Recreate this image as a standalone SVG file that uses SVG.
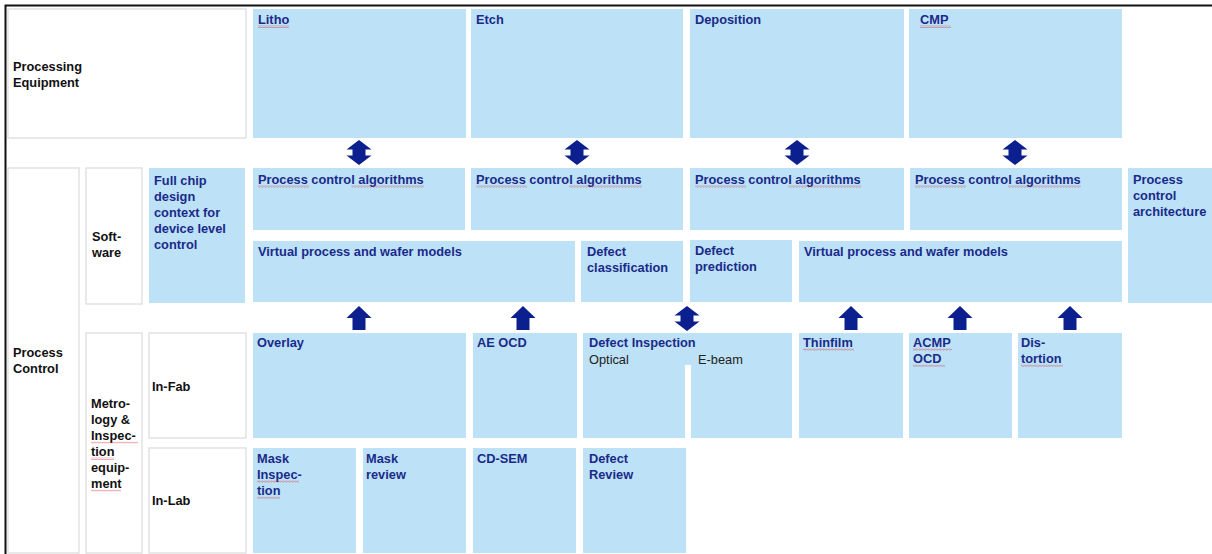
<svg xmlns="http://www.w3.org/2000/svg" width="1212" height="554" viewBox="0 0 1212 554">
  <style>
    .cell { fill: #bde1f6; }
    .hdr { fill: #ffffff; stroke: #dadada; stroke-width: 1.2; }
    .t { font-family: "Liberation Sans", Arial, sans-serif; font-size: 12.8px; font-weight: bold; fill: #1a2a8a; }
    .h { font-family: "Liberation Sans", Arial, sans-serif; font-size: 12.8px; font-weight: bold; fill: #111111; }
    .r { font-family: "Liberation Sans", Arial, sans-serif; font-size: 12.8px; fill: #222222; }
    .arr { fill: #0c1f8e; }
    .sq { fill: url(#squiggle); }
  </style>
  <defs>
    <pattern id="squiggle" width="3" height="2.4" patternUnits="userSpaceOnUse">
      <path d="M0,1.9 L1.5,0.5 L3,1.9" fill="none" stroke="#d2262a" stroke-width="0.6"/>
    </pattern>
    <!-- double-headed vertical arrow, tip at (0,0), 25 tall -->
    <path id="dbl" d="M0,0 L12.5,9.5 L6.5,9.5 L6.5,15.5 L12.5,15.5 L0,25 L-12.5,15.5 L-6.5,15.5 L-6.5,9.5 L-12.5,9.5 Z"/>
    <!-- upward arrow, tip at (0,0), 24 tall -->
    <path id="up" d="M0,0 L12.5,12 L6.5,12 L6.5,24 L-6.5,24 L-6.5,12 L-12.5,12 Z"/>
  </defs>

  <rect x="0" y="0" width="1212" height="554" fill="#ffffff"/>
  <!-- frame -->
  <path d="M5.5,554 L5.5,5.5 L1212,5.5" fill="none" stroke="#111111" stroke-width="2"/>

  <!-- row headers -->
  <g id="processing-equipment">
    <rect class="hdr" x="8" y="9" width="238" height="129"/>
    <text class="h" x="13" y="71">Processing</text>
    <text class="h" x="13" y="87">Equipment</text>
  </g>
  <g id="process-control">
    <rect class="hdr" x="8" y="168" width="71" height="385"/>
    <text class="h" x="13" y="357">Process</text>
    <text class="h" x="13" y="373">Control</text>
  </g>
  <g id="software">
    <rect class="hdr" x="86" y="168" width="56" height="136"/>
    <text class="h" x="92" y="241">Soft-</text>
    <text class="h" x="92" y="257">ware</text>
  </g>
  <g id="metrology">
    <rect class="hdr" x="86" y="333" width="56" height="220"/>
    <text class="h" x="91" y="408">Metro-</text>
    <text class="h" x="91" y="424">logy &amp;</text>
    <text class="h" x="91" y="440">Inspec-</text>
    <text class="h" x="91" y="456">tion</text>
    <text class="h" x="91" y="472">equip-</text>
    <text class="h" x="91" y="488">ment</text>
    <rect class="sq" x="91" y="441.5" width="47" height="2.4"/>
    <rect class="sq" x="91" y="457.5" width="23" height="2.4"/>
    <rect class="sq" x="91" y="489.5" width="30" height="2.4"/>
  </g>
  <g id="in-fab">
    <rect class="hdr" x="149" y="333" width="97" height="105"/>
    <text class="h" x="152" y="391">In-Fab</text>
  </g>
  <g id="in-lab">
    <rect class="hdr" x="149" y="448" width="97" height="105"/>
    <text class="h" x="152" y="505">In-Lab</text>
  </g>

  <!-- processing equipment -->
  <g id="litho">
    <rect class="cell" x="253" y="9" width="213" height="129"/>
    <text class="t" x="258" y="24">Litho</text>
    <rect class="sq" x="258" y="25.5" width="31" height="2.4"/>
  </g>
  <g id="etch">
    <rect class="cell" x="471" y="9" width="212" height="129"/>
    <text class="t" x="476" y="24">Etch</text>
  </g>
  <g id="deposition">
    <rect class="cell" x="690" y="9" width="214" height="129"/>
    <text class="t" x="695" y="24">Deposition</text>
  </g>
  <g id="cmp">
    <rect class="cell" x="909" y="9" width="213" height="129"/>
    <text class="t" x="920" y="24">CMP</text>
    <rect class="sq" x="920" y="25.5" width="31" height="2.4"/>
  </g>

  <!-- software -->
  <g id="full-chip">
    <rect class="cell" x="149" y="168" width="96" height="135"/>
    <text class="t" x="154" y="185">Full chip</text>
    <text class="t" x="154" y="201">design</text>
    <text class="t" x="154" y="217">context for</text>
    <text class="t" x="154" y="233">device level</text>
    <text class="t" x="154" y="249">control</text>
  </g>
  <g id="pca-litho">
    <rect class="cell" x="253" y="168" width="212" height="62"/>
    <text class="t" x="258" y="184">Process control algorithms</text>
    <rect class="sq" x="258" y="185.5" width="51" height="2.4"/>
    <rect class="sq" x="351" y="185.5" width="73" height="2.4"/>
  </g>
  <g id="pca-etch">
    <rect class="cell" x="471" y="168" width="212" height="62"/>
    <text class="t" x="476" y="184">Process control algorithms</text>
    <rect class="sq" x="476" y="185.5" width="51" height="2.4"/>
    <rect class="sq" x="569" y="185.5" width="73" height="2.4"/>
  </g>
  <g id="pca-deposition">
    <rect class="cell" x="690" y="168" width="214" height="62"/>
    <text class="t" x="695" y="184">Process control algorithms</text>
    <rect class="sq" x="695" y="185.5" width="51" height="2.4"/>
    <rect class="sq" x="788" y="185.5" width="73" height="2.4"/>
  </g>
  <g id="pca-cmp">
    <rect class="cell" x="910" y="168" width="212" height="62"/>
    <text class="t" x="915" y="184">Process control algorithms</text>
    <rect class="sq" x="915" y="185.5" width="51" height="2.4"/>
    <rect class="sq" x="1008" y="185.5" width="73" height="2.4"/>
  </g>
  <g id="pc-architecture">
    <rect class="cell" x="1128" y="168" width="84" height="135"/>
    <text class="t" x="1133" y="184">Process</text>
    <text class="t" x="1133" y="200">control</text>
    <text class="t" x="1133" y="216">architecture</text>
  </g>
  <g id="virtual-left">
    <rect class="cell" x="253" y="241" width="322" height="61"/>
    <text class="t" x="258" y="256">Virtual process and wafer models</text>
  </g>
  <g id="defect-classification">
    <rect class="cell" x="581" y="241" width="102" height="61"/>
    <text class="t" x="587" y="256">Defect</text>
    <text class="t" x="587" y="272">classification</text>
  </g>
  <g id="defect-prediction">
    <rect class="cell" x="690" y="240" width="102" height="62"/>
    <text class="t" x="695" y="255">Defect</text>
    <text class="t" x="695" y="271">prediction</text>
  </g>
  <g id="virtual-right">
    <rect class="cell" x="799" y="241" width="323" height="61"/>
    <text class="t" x="804" y="256">Virtual process and wafer models</text>
  </g>

  <!-- in-fab metrology & inspection -->
  <g id="overlay">
    <rect class="cell" x="253" y="333" width="213" height="105"/>
    <text class="t" x="257" y="347">Overlay</text>
  </g>
  <g id="ae-ocd">
    <rect class="cell" x="473" y="333" width="104" height="105"/>
    <text class="t" x="477" y="347">AE OCD</text>
  </g>
  <g id="defect-inspection">
    <path class="cell" d="M583,333 L792,333 L792,438 L691,438 L691,365 L685,365 L685,438 L583,438 Z"/>
    <text class="t" x="589" y="347">Defect Inspection</text>
    <text class="r" x="589" y="364">Optical</text>
    <text class="r" x="698" y="364">E-beam</text>
  </g>
  <g id="thinfilm">
    <rect class="cell" x="799" y="333" width="104" height="105"/>
    <text class="t" x="803" y="347">Thinfilm</text>
    <rect class="sq" x="803" y="348.5" width="51" height="2.4"/>
  </g>
  <g id="acmp-ocd">
    <rect class="cell" x="909" y="333" width="103" height="105"/>
    <text class="t" x="913" y="347">ACMP</text>
    <text class="t" x="913" y="363">OCD</text>
    <rect class="sq" x="913" y="348.5" width="39" height="2.4"/>
    <rect class="sq" x="913" y="364.5" width="32" height="2.4"/>
  </g>
  <g id="distortion">
    <rect class="cell" x="1018" y="333" width="104" height="105"/>
    <text class="t" x="1021" y="347">Dis-</text>
    <text class="t" x="1021" y="363">tortion</text>
    <rect class="sq" x="1021" y="364.5" width="42" height="2.4"/>
  </g>

  <!-- in-lab -->
  <g id="mask-inspection">
    <rect class="cell" x="253" y="448" width="103" height="105"/>
    <text class="t" x="257" y="463">Mask</text>
    <text class="t" x="257" y="479">Inspec-</text>
    <text class="t" x="257" y="495">tion</text>
    <rect class="sq" x="257" y="480.5" width="42" height="2.4"/>
    <rect class="sq" x="257" y="496.5" width="23" height="2.4"/>
  </g>
  <g id="mask-review">
    <rect class="cell" x="363" y="448" width="103" height="105"/>
    <text class="t" x="366" y="463">Mask</text>
    <text class="t" x="366" y="479">review</text>
  </g>
  <g id="cd-sem">
    <rect class="cell" x="473" y="448" width="103" height="105"/>
    <text class="t" x="477" y="463">CD-SEM</text>
  </g>
  <g id="defect-review">
    <rect class="cell" x="583" y="448" width="103" height="105"/>
    <text class="t" x="589" y="463">Defect</text>
    <text class="t" x="589" y="479">Review</text>
  </g>

  <!-- connectors -->
  <g id="connectors" class="arr">
    <use href="#dbl" x="359" y="140"/>
    <use href="#dbl" x="577" y="140"/>
    <use href="#dbl" x="797" y="140"/>
    <use href="#dbl" x="1015" y="140"/>
    <use href="#up" x="359" y="306"/>
    <use href="#up" x="523" y="306"/>
    <use href="#dbl" x="687" y="306"/>
    <use href="#up" x="851" y="306"/>
    <use href="#up" x="960" y="306"/>
    <use href="#up" x="1070" y="306"/>
  </g>
</svg>
